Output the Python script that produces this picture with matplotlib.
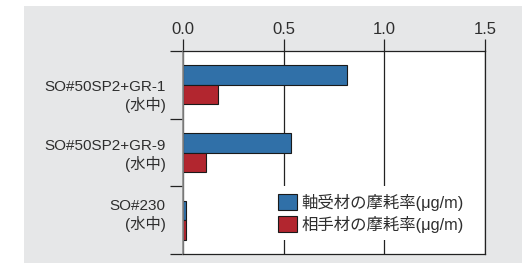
import matplotlib
matplotlib.use("Agg")
import matplotlib.pyplot as plt
from matplotlib.patches import Patch, Rectangle

# data
categories = ["SO#50SP2+GR-1\n(水中)", "SO#50SP2+GR-9\n(水中)", "SO#230\n(水中)"]
bearing_wear = [0.813, 0.535, 0.015]
counter_wear = [0.172, 0.114, 0.015]
series_labels = ["軸受材の摩耗率(μg/m)", "相手材の摩耗率(μg/m)"]
x_ticks = [0.0, 0.5, 1.0, 1.5]

BLUE = "#3070a8"
RED = "#b2262f"
TEXT = "#2e2e2e"
BG = "#e6e7e8"

plt.rcParams["font.family"] = ["Liberation Sans", "Noto Sans CJK JP", "DejaVu Sans"]

fig = plt.figure(figsize=(5.22, 2.63), dpi=100)
fig.patches.append(Rectangle((24 / 522, 0), 1, 1 - 6 / 263, transform=fig.transFigure,
                             facecolor=BG, edgecolor="none", zorder=-10))
ax = fig.add_axes([183 / 522, 1 - 254.3 / 263, 302 / 522, 203.6 / 263])
ax.set_facecolor("white")

h = 0.285
pos = [i + 0.5 for i in range(len(categories))]
ax.barh([p - h / 2 for p in pos], bearing_wear, height=h, color=BLUE,
        edgecolor="#1a1a1a", linewidth=0.8, zorder=2)
ax.barh([p + h / 2 for p in pos], counter_wear, height=h, color=RED,
        edgecolor="#1a1a1a", linewidth=0.8, zorder=2)

ax.set_xlim(0, 1.5)
ax.set_ylim(len(categories), 0)

ax.xaxis.tick_top()
ax.set_xticks(x_ticks)
ax.set_xticklabels([f"{t:.1f}" for t in x_ticks])
ax.tick_params(axis="x", direction="out", length=8.6, width=0.9, color="#222222",
               pad=1.5, labelsize=12, labelcolor=TEXT)
ax.set_axisbelow(True)
ax.grid(axis="x", color="#222222", linewidth=0.9)

# labels sit slightly off the band centres in the reference
ax.set_yticks([0.63, 1.5, 2.39])
ax.set_yticklabels(categories)
ax.tick_params(axis="y", which="major", length=0, pad=12.5, labelsize=11, labelcolor=TEXT)
ax.set_yticks([0, 1, 2, 3], minor=True)
ax.tick_params(axis="y", which="minor", direction="out", length=9.4, width=0.9, color="#222222")

for side in ("top", "right", "bottom"):
    ax.spines[side].set_color("#222222")
    ax.spines[side].set_linewidth(0.9)
ax.spines["left"].set_color("#8a8a8a")
ax.spines["left"].set_linewidth(1.2)

handles = [Patch(facecolor=BLUE, edgecolor="#1a1a1a", linewidth=0.8),
           Patch(facecolor=RED, edgecolor="#1a1a1a", linewidth=0.8)]
leg = ax.legend(handles, series_labels, loc="upper left", bbox_to_anchor=(0.29, 0.335),
                borderaxespad=0, borderpad=0.45, handlelength=1.16, handleheight=1.16,
                handletextpad=0.26, labelspacing=0.3, fontsize=11.8, frameon=True,
                fancybox=False, facecolor="white", edgecolor="none", framealpha=1)
for t in leg.get_texts():
    t.set_color(TEXT)

fig.savefig("out.png", dpi=100)
